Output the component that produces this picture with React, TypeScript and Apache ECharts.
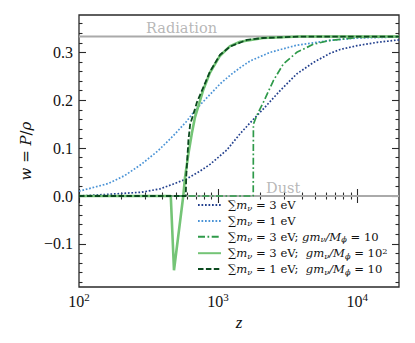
import React, { useEffect, useRef } from 'react';
import * as echarts from 'echarts';

// ---- axis ranges & ticks ----
const zMin = 100;
const zMax = 20000;
const wMin = -0.19;
const wMax = 0.378;
const xMajorExps = [2, 3, 4];
const xMinorTicks = [200, 300, 400, 500, 600, 700, 800, 900, 2000, 3000, 4000, 5000, 6000, 7000, 8000, 9000];
const yMajorTicks = [-0.1, 0, 0.1, 0.2, 0.3];
const yMinorTicks = [-0.18, -0.16, -0.14, -0.12, -0.08, -0.06, -0.04, -0.02, 0.02, 0.04, 0.06, 0.08, 0.12, 0.14, 0.16, 0.18, 0.22, 0.24, 0.26, 0.28, 0.32, 0.34, 0.36];

// ---- reference lines ----
const refZ = [100, 20000];
const wRadiation = 1 / 3;
const wDust = 0;

// ---- series data ----
// Σmν = 3 eV
const zNu3 = [100, 162, 283, 383, 477, 596, 742, 875, 1155, 1440, 1700, 2118, 2793, 3681, 4852, 6395, 7550, 10000, 14000, 20000];
const wNu3 = [0.0, 0.0035, 0.008, 0.015, 0.025, 0.036, 0.052, 0.066, 0.096, 0.13, 0.153, 0.182, 0.22, 0.255, 0.279, 0.298, 0.306, 0.314, 0.321, 0.326];
// Σmν = 1 eV
const zNu1 = [100, 162, 214, 283, 372, 477, 590, 664, 742, 875, 1033, 1219, 1440, 1700, 2366, 3681, 6395, 10000, 20000];
const wNu1 = [0.010, 0.026, 0.043, 0.067, 0.095, 0.126, 0.155, 0.174, 0.19, 0.212, 0.234, 0.252, 0.268, 0.282, 0.300, 0.315, 0.325, 0.330, 0.332];
// Σmν = 3 eV; g mν/Mφ = 10
const zNu3g10 = [100, 1790, 1795, 1897, 2005, 2118, 2500, 2951, 3681, 4852, 6395, 10000, 20000];
const wNu3g10 = [0, 0, 0.15, 0.168, 0.182, 0.196, 0.241, 0.276, 0.30, 0.317, 0.325, 0.331, 0.333];
// Σmν = 3 eV; g mν/Mφ = 10^2
const zNu3g100 = [100, 457, 482, 562, 579, 612, 647, 683, 742, 783, 875, 1033, 1219, 1440, 2109, 3890, 20000];
const wNu3g100 = [0, 0, -0.155, 0, 0.04, 0.088, 0.13, 0.165, 0.199, 0.222, 0.258, 0.293, 0.313, 0.322, 0.330, 0.333, 0.333];
// Σmν = 1 eV; g mν/Mφ = 10
const zNu1g10 = [100, 586, 590, 612, 630, 683, 703, 783, 875, 1033, 1219, 1610, 2109, 3890, 20000];
const wNu1g10 = [0, 0, 0.04, 0.116, 0.15, 0.182, 0.195, 0.227, 0.26, 0.295, 0.312, 0.326, 0.330, 0.333, 0.333];

const seriesNames = ['nu3', 'nu1', 'nu3g10', 'nu3g100', 'nu1g10'];
const legendLabels: Record<string, string> = {
  nu3: '{S|∑}{i|m}{s|ν}{t| = 3 eV}',
  nu1: '{S|∑}{i|m}{s|ν}{t| = 1 eV}',
  nu3g10: '{S|∑}{i|m}{s|ν}{t| = 3 eV; }{i|gm}{s|ν}{i|/M}{s|ϕ}{t| = 10}',
  nu3g100: '{S|∑}{i|m}{s|ν}{t| = 3 eV;  }{i|gm}{s|ν}{i|/M}{s|ϕ}{t| = 10}{p|2}',
  nu1g10: '{S|∑}{i|m}{s|ν}{t| = 1 eV;  }{i|gm}{s|ν}{i|/M}{s|ϕ}{t| = 10}',
};

const SERIF = 'Liberation Serif, DejaVu Serif, serif';
const DJV = 'DejaVu Serif, serif';
const TICK_COLOR = '#2a2a2a';
const LEG_FS = 11.6;

const pairs = (zs: number[], ws: number[]) => zs.map((z, i) => [z, ws[i]]);

export default function App() {
  const ref = useRef<HTMLDivElement>(null);
  useEffect(() => {
    if (!ref.current) return;
    const chart = echarts.init(ref.current, null, { renderer: 'svg' });
    const lg0 = Math.log10(zMin);
    const lg1 = Math.log10(zMax);
    const xMinorLog = xMinorTicks.map((v) => Math.log10(v));

    const xTickAxis = (pos: 'bottom' | 'top', major: boolean, withLabels: boolean) => ({
      type: 'value',
      position: pos,
      min: lg0,
      max: lg1,
      gridIndex: 0,
      axisLine: { show: false },
      splitLine: { show: false },
      axisTick: {
        show: true,
        inside: true,
        length: major ? 7 : 3.5,
        lineStyle: { color: TICK_COLOR, width: 1.1 },
        customValues: major ? xMajorExps : xMinorLog,
      },
      axisLabel: withLabels
        ? {
            show: true,
            customValues: xMajorExps,
            margin: 4,
            formatter: (v: number) => '{b|10}{e|' + Math.round(v) + '}',
            rich: {
              b: { fontFamily: SERIF, fontSize: 16, color: '#111', lineHeight: 18, verticalAlign: 'bottom' },
              e: { fontFamily: SERIF, fontSize: 11, color: '#111', lineHeight: 11, verticalAlign: 'top' },
            },
          }
        : { show: false },
      ...(withLabels
        ? {
            name: 'z',
            nameLocation: 'middle',
            nameGap: 24,
            nameTextStyle: { fontFamily: SERIF, fontStyle: 'italic', fontSize: 17, color: '#111' },
          }
        : {}),
    });

    const yTickAxis = (pos: 'left' | 'right', major: boolean, withLabels: boolean) => ({
      type: 'value',
      position: pos,
      min: wMin,
      max: wMax,
      gridIndex: 0,
      axisLine: { show: false },
      splitLine: { show: false },
      axisTick: {
        show: true,
        inside: true,
        length: major ? 7 : 3.5,
        lineStyle: { color: TICK_COLOR, width: 1.1 },
        customValues: major ? yMajorTicks : yMinorTicks,
      },
      axisLabel: withLabels
        ? {
            show: true,
            customValues: yMajorTicks,
            margin: 6,
            fontFamily: SERIF,
            fontSize: 16,
            color: '#111',
            formatter: (v: number) => (v < -1e-9 ? '−' : '') + Math.abs(v).toFixed(1),
          }
        : { show: false },
      ...(withLabels
        ? {
            name: '{i|w} = {i|P}/{i|ρ}',
            nameLocation: 'middle',
            nameGap: 44,
            nameTextStyle: {
              fontFamily: DJV,
              fontSize: 15,
              color: '#111',
              rich: {
                i: { fontFamily: DJV, fontStyle: 'italic', fontSize: 15, color: '#111' },
              },
            },
          }
        : {}),
    });

    const mkLine = (name: string, zs: number[], ws: number[], color: string, width: number, type: any) => ({
      name,
      type: 'line',
      xAxisIndex: 0,
      yAxisIndex: 0,
      data: pairs(zs, ws),
      symbol: 'none',
      showSymbol: false,
      silent: true,
      itemStyle: { color },
      lineStyle: { color, width, type, cap: 'butt' },
      z: 3,
    });

    const option: any = {
      animation: false,
      grid: {
        left: 79,
        right: 16,
        top: 15,
        bottom: 56,
        show: true,
        borderColor: '#2a2a2a',
        borderWidth: 1.3,
        backgroundColor: 'transparent',
        containLabel: false,
        outerBoundsMode: 'none',
      },
      xAxis: [
        {
          type: 'log',
          logBase: 10,
          min: zMin,
          max: zMax,
          axisLine: { show: false },
          axisTick: { show: false },
          axisLabel: { show: false },
          splitLine: { show: false },
          minorTick: { show: false },
        },
        xTickAxis('bottom', true, true),
        xTickAxis('bottom', false, false),
        xTickAxis('top', true, false),
        xTickAxis('top', false, false),
      ],
      yAxis: [
        {
          type: 'value',
          min: wMin,
          max: wMax,
          axisLine: { show: false },
          axisTick: { show: false },
          axisLabel: { show: false },
          splitLine: { show: false },
        },
        yTickAxis('left', true, true),
        yTickAxis('left', false, false),
        yTickAxis('right', true, false),
        yTickAxis('right', false, false),
      ],
      legend: {
        data: seriesNames,
        orient: 'vertical',
        left: 192,
        top: 194,
        itemWidth: 23,
        itemHeight: 12,
        itemGap: 3.4,
        itemStyle: { opacity: 0 },
        formatter: (name: string) => legendLabels[name],
        textStyle: {
          fontFamily: DJV,
          fontSize: LEG_FS,
          color: '#111',
          rich: {
            S: { fontFamily: DJV, fontSize: LEG_FS, color: '#111', lineHeight: 13, padding: [0, 0, 0, 2] },
            t: { fontFamily: DJV, fontSize: LEG_FS, color: '#111', lineHeight: 13 },
            i: { fontFamily: DJV, fontStyle: 'italic', fontSize: LEG_FS, color: '#111', lineHeight: 13 },
            s: { fontFamily: DJV, fontStyle: 'italic', fontSize: 8.2, color: '#111', lineHeight: 8, verticalAlign: 'bottom' },
            p: { fontFamily: DJV, fontSize: 8.2, color: '#111', lineHeight: 8, verticalAlign: 'top' },
          },
        },
      },
      series: [
        {
          name: 'radiation',
          type: 'line',
          data: refZ.map((z) => [z, wRadiation]),
          symbol: 'none',
          silent: true,
          lineStyle: { color: '#aaaaaa', width: 2 },
          z: 1,
        },
        {
          name: 'dust',
          type: 'line',
          data: refZ.map((z) => [z, wDust]),
          symbol: 'none',
          silent: true,
          lineStyle: { color: '#aaaaaa', width: 2 },
          z: 1,
        },
        {
          name: 'refLabels',
          type: 'scatter',
          data: [
            { value: [546, wRadiation], label: { formatter: 'Radiation' } },
            { value: [2938, wDust], label: { formatter: 'Dust' } },
          ],
          symbolSize: 0,
          silent: true,
          label: {
            show: true,
            position: 'top',
            distance: 1,
            fontFamily: DJV,
            fontSize: 14.5,
            color: '#a5a5a5',
          },
          z: 2,
        },
        mkLine('nu3', zNu3, wNu3, '#23408e', 1.7, [1.7, 1.8]),
        mkLine('nu1', zNu1, wNu1, '#4a93d6', 1.7, [1.7, 1.8]),
        mkLine('nu3g10', zNu3g10, wNu3g10, '#2f9a4a', 1.7, [7, 2.5, 1.7, 2.5]),
        mkLine('nu3g100', zNu3g100, wNu3g100, '#74c476', 2.6, 'solid'),
        mkLine('nu1g10', zNu1g10, wNu1g10, '#0b4a1f', 1.8, [5.5, 2.4]),
      ],
    };
    chart.setOption(option);
    return () => chart.dispose();
  }, []);
  return (
    <div
      ref={ref}
      style={{ position: 'absolute', left: 0, top: 0, width: 415, height: 343, background: '#fff' }}
    />
  );
}
